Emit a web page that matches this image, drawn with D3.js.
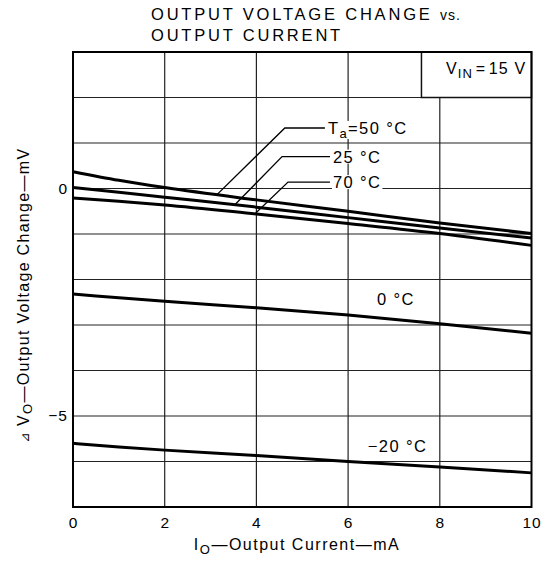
<!DOCTYPE html>
<html lang="en">
    <head>
        <meta charset="utf-8">
        <title>Output Voltage Change vs. Output Current</title>
        <script type="text/javascript" src="https://d3js.org/d3.v7.min.js"></script>
        <style type="text/css">
            body { margin: 0; background: white; }
            text {
                font-family: "Liberation Sans", Arial, sans-serif;
                fill: black;
            }
        </style>
    </head>
    <body>
        <script type="text/javascript">

        // Size
        var w = 548;
        var h = 568;
        var margin = { top: 52, right: 16.5, bottom: 61, left: 73 };

        // Data (mA, mV)
        var current = [0, 1, 2, 4, 6, 8, 10];
        var dv50  = [0.37, 0.18, 0.02, -0.25, -0.50, -0.76, -0.99];
        var dv25  = [0.02, -0.08, -0.19, -0.41, -0.64, -0.87, -1.09];
        var dv70  = [-0.21, -0.28, -0.36, -0.56, -0.77, -0.99, -1.25];
        var dv0   = [-2.32, -2.40, -2.48, -2.62, -2.78, -2.97, -3.18];
        var dvm20 = [-5.60, -5.68, -5.75, -5.87, -6.00, -6.12, -6.25];

        var xTicks = [0, 2, 4, 6, 8, 10];
        var yTicks = [0, -5];
        var yGrid = [-7, -6, -5, -4, -3, -2, -1, 0, 1, 2, 3];

        // Leader labels: curve, where the leader hits it (mA), elbow (mA, mV), label x (mA)
        var leaders = [
            { series: dv50, hit: 3.14, ex: 4.62, ey: 1.33, lx: 5.56, name: "50 °C", first: true },
            { series: dv25, hit: 3.53, ex: 4.56, ey: 0.70, lx: 5.67, name: "25 °C" },
            { series: dv70, hit: 3.97, ex: 4.69, ey: 0.14, lx: 5.67, name: "70 °C" }
        ];
        // Plain labels (mA, mV baseline)
        var plainLabels = [
            { text: "0 °C", x: 6.63, y: -2.56 },
            { text: "\u221220 °C", x: 6.43, y: -5.79 }
        ];
        var boxLeft = 7.6;   // mA, left edge of the V_IN box

        var x = d3.scaleLinear().domain([0, 10]).range([margin.left, w - margin.right]);
        var y = d3.scaleLinear().domain([-7, 3]).range([h - margin.bottom, margin.top]);

        var svg = d3.select("body")
                    .append("svg")
                    .attr("width", w)
                    .attr("height", h);

        // Title
        var title = svg.append("text")
                    .attr("x", 151)
                    .attr("y", 20)
                    .style("font-size", "16.5px")
                    .style("letter-spacing", "2.8px");
        title.append("tspan").text("OUTPUT VOLTAGE CHANGE ");
        title.append("tspan").style("font-size", "14px").style("letter-spacing", "1px").text("vs.");
        svg.append("text")
            .attr("x", 151)
            .attr("y", 41)
            .style("font-size", "16.5px")
            .style("letter-spacing", "2.8px")
            .text("OUTPUT CURRENT");

        // Grid
        svg.selectAll("line.hgrid")
            .data(yGrid)
            .enter()
            .append("line")
            .attr("class", "hgrid")
            .attr("x1", x(0)).attr("x2", x(10))
            .attr("y1", function(d){ return y(d); })
            .attr("y2", function(d){ return y(d); })
            .attr("stroke", "#222")
            .attr("stroke-width", 1.2);

        svg.selectAll("line.vgrid")
            .data(xTicks.slice(1, -1))
            .enter()
            .append("line")
            .attr("class", "vgrid")
            .attr("x1", function(d){ return x(d); })
            .attr("x2", function(d){ return x(d); })
            .attr("y1", function(d){ return d === 8 ? y(2) : y(3); })
            .attr("y2", y(-7))
            .attr("stroke", "#222")
            .attr("stroke-width", 1.2);

        // V_IN box
        svg.append("rect")
            .attr("x", x(boxLeft))
            .attr("y", y(3))
            .attr("width", x(10) - x(boxLeft))
            .attr("height", y(2) - y(3))
            .attr("fill", "white")
            .attr("stroke", "#111")
            .attr("stroke-width", 1.5);
        var vin = svg.append("text")
            .attr("x", x(10) - 5)
            .attr("y", y(2.52))
            .attr("text-anchor", "end")
            .style("font-size", "16px")
            .style("letter-spacing", "1.2px");
        vin.append("tspan").text("V");
        vin.append("tspan").attr("dy", 4).style("font-size", "13px").text("IN");
        vin.append("tspan").attr("dy", -4).text("\u200A=\u200A15 V");

        // Frame
        svg.append("rect")
            .attr("x", x(0))
            .attr("y", y(3))
            .attr("width", x(10) - x(0))
            .attr("height", y(-7) - y(3))
            .attr("fill", "none")
            .attr("stroke", "black")
            .attr("stroke-width", 2);

        // Curves
        var line = d3.line()
                    .x(function(d, i){ return x(current[i]); })
                    .y(function(d){ return y(d); })
                    .curve(d3.curveMonotoneX);

        svg.selectAll("path.curve")
            .data([dv50, dv25, dv70, dv0, dvm20])
            .enter()
            .append("path")
            .attr("class", "curve")
            .attr("d", line)
            .attr("fill", "none")
            .attr("stroke", "black")
            .attr("stroke-width", 3);

        // Leader labels
        var interp = function(series, mA) {
            return d3.scaleLinear().domain(current).range(series)(mA);
        };

        leaders.forEach(function(l) {
            var g = svg.append("g");
            var t = g.append("text")
                    .attr("x", x(l.lx))
                    .attr("y", y(l.ey))
                    .attr("dy", "0.36em")
                    .style("font-size", "16.5px")
                    .style("letter-spacing", "1.4px");
            if (l.first) {
                t.append("tspan").text("T");
                t.append("tspan").attr("dy", 4).style("font-size", "13px").text("a");
                t.append("tspan").attr("dy", -4).text("=" + l.name);
            } else {
                t.text(l.name);
            }
            var bb = t.node().getBBox();
            g.insert("rect", "text")
                .attr("x", bb.x - 1)
                .attr("y", bb.y + 2)
                .attr("width", bb.width + 2)
                .attr("height", bb.height - 4)
                .attr("fill", "white");
            svg.append("polyline")
                .attr("points", [
                    [x(l.lx) - 3, y(l.ey)],
                    [x(l.ex), y(l.ey)],
                    [x(l.hit), y(interp(l.series, l.hit))]
                ].join(" "))
                .attr("fill", "none")
                .attr("stroke", "black")
                .attr("stroke-width", 1.3);
        });

        svg.selectAll("text.plain")
            .data(plainLabels)
            .enter()
            .append("text")
            .attr("class", "plain")
            .attr("x", function(d){ return x(d.x); })
            .attr("y", function(d){ return y(d.y); })
            .style("font-size", "16.5px")
            .style("letter-spacing", "1.4px")
            .text(function(d){ return d.text; });

        // Axes (labels only)
        var xAxis = svg.append("g")
            .attr("transform", "translate(0," + y(-7) + ")")
            .call(d3.axisBottom(x).tickValues(xTicks).tickSize(0).tickPadding(10));
        var yAxis = svg.append("g")
            .attr("transform", "translate(" + x(0) + ",0)")
            .call(d3.axisLeft(y).tickValues(yTicks).tickSize(0).tickPadding(5));
        [xAxis, yAxis].forEach(function(a) {
            a.select(".domain").remove();
            a.selectAll("text")
                .style("font-family", "\"Liberation Sans\", Arial, sans-serif")
                .style("font-size", "15.5px")
                .style("letter-spacing", "1px");
        });

        // Axis titles
        var xt = svg.append("text")
            .attr("x", 297)
            .attr("y", 550)
            .attr("text-anchor", "middle")
            .style("font-size", "16px")
            .style("letter-spacing", "1.5px");
        xt.append("tspan").text("I");
        xt.append("tspan").attr("dy", 4).style("font-size", "13px").text("O");
        xt.append("tspan").attr("dy", -4).text("\u2014Output Current\u2014mA");

        var yt = svg.append("text")
            .attr("transform", "translate(28.5,295) rotate(-90)")
            .attr("text-anchor", "middle")
            .style("font-size", "16px")
            .style("letter-spacing", "1.3px");
        yt.append("tspan").style("font-family", "\"DejaVu Sans\"").style("font-size", "12px").text("\u22BF ");
        yt.append("tspan").text("V");
        yt.append("tspan").attr("dy", 3).style("font-size", "13px").text("O");
        yt.append("tspan").attr("dy", -3).text("\u2014Output Voltage Change\u2014mV");

        </script>
    </body>
</html>
